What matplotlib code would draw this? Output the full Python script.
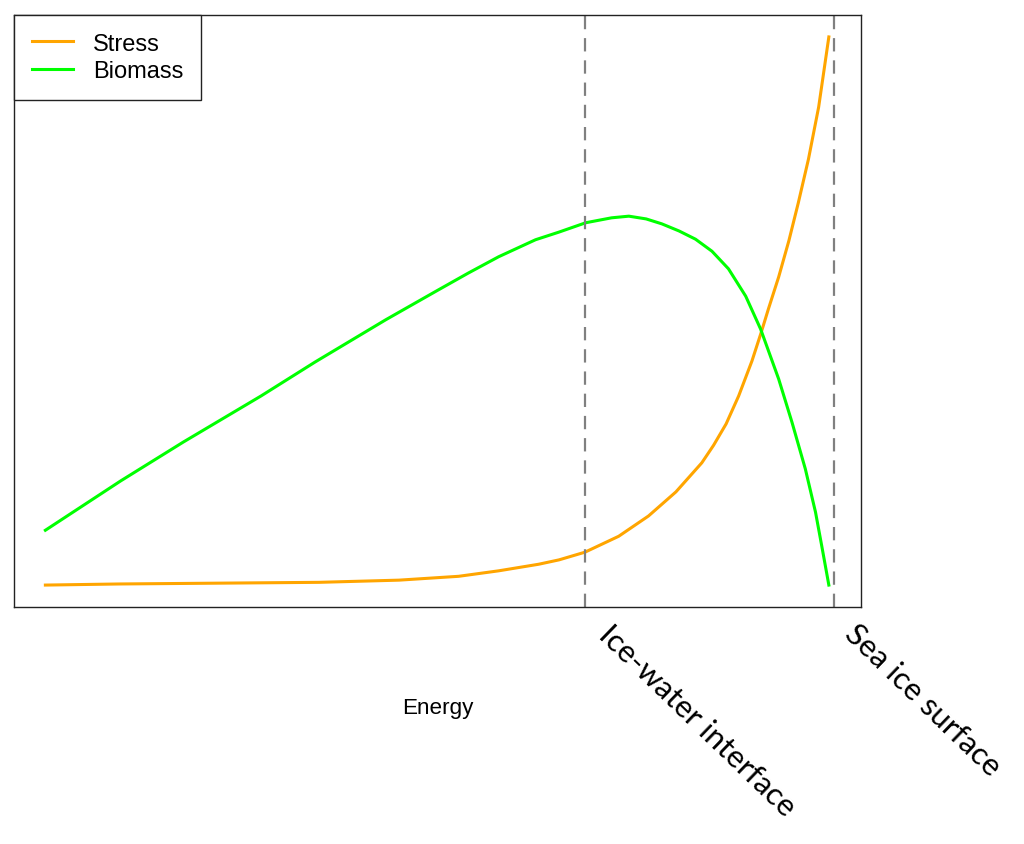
import matplotlib
matplotlib.use("Agg")
import matplotlib.pyplot as plt

# energy axis (0 = bottom of ice, 1 = top)
stress_x = [0.0, 0.094, 0.349, 0.451, 0.527, 0.578, 0.629, 0.655, 0.688, 0.731,
            0.769, 0.804, 0.837, 0.852, 0.868, 0.884, 0.901, 0.913, 0.922, 0.935,
            0.948, 0.960, 0.973, 0.986, 0.999]
stress_y = [0.0, 0.002, 0.005, 0.009, 0.016, 0.026, 0.038, 0.046, 0.060, 0.089,
            0.126, 0.170, 0.223, 0.255, 0.294, 0.345, 0.409, 0.462, 0.504, 0.562,
            0.628, 0.697, 0.777, 0.872, 1.0]

biomass_x = [0.0, 0.096, 0.176, 0.275, 0.344, 0.434, 0.498, 0.539, 0.578, 0.625,
             0.655, 0.689, 0.722, 0.744, 0.766, 0.786, 0.808, 0.829, 0.850, 0.871,
             0.893, 0.912, 0.935, 0.952, 0.969, 0.982, 0.990, 0.999]
biomass_y = [0.100, 0.190, 0.261, 0.345, 0.407, 0.484, 0.536, 0.569, 0.599, 0.630,
             0.644, 0.661, 0.670, 0.673, 0.668, 0.659, 0.646, 0.631, 0.609, 0.577,
             0.527, 0.467, 0.376, 0.297, 0.212, 0.133, 0.071, 0.0]

markers_x = [0.688, 1.006]

fig = plt.figure(figsize=(10.24, 8.45), dpi=100)
ax = fig.add_axes([14/1024, 1 - 608/845, (861-14)/1024, (608-16)/845])

ax.plot(stress_x, stress_y, color="#FFA500", lw=2.2, label="Stress")
ax.plot(biomass_x, biomass_y, color="#00FF00", lw=2.2, label="Biomass")
for xv in markers_x:
    ax.axvline(xv, color="#808080", lw=1.6, ls=(0, (6, 4)))

ax.set_xlim(-0.04, 1.04)
ax.set_ylim(-0.04, 1.04)
ax.set_xticks([])
ax.set_yticks([])
for sp in ax.spines.values():
    sp.set_linewidth(1.0)
    sp.set_color("#222222")

ax.set_xlabel("Energy", fontsize=16.2, family="Liberation Sans")
ax.xaxis.set_label_coords(0.5, -(709 - 608) / 592)
ax.xaxis.label.set_va("center")

leg = ax.legend(loc="upper left", borderaxespad=0, fancybox=False,
                edgecolor="#222222", framealpha=1,
                prop={"family": "Liberation Sans", "size": 17},
                handlelength=1.75, handletextpad=0.85, borderpad=0.75,
                labelspacing=0.24)
leg.get_frame().set_linewidth(1.0)

# rotated location labels under the axis (baseline start just right of each line)
ax.annotate("Ice-water interface", xy=(markers_x[0], 0),
            xycoords=("data", "axes fraction"),
            xytext=(8.6, -20.9), textcoords="offset points",
            rotation=-44, rotation_mode="anchor", ha="left", va="baseline",
            fontsize=22.5, family="Lato", annotation_clip=False)
ax.annotate("Sea ice surface", xy=(markers_x[1], 0),
            xycoords=("data", "axes fraction"),
            xytext=(6.5, -20), textcoords="offset points",
            rotation=-44, rotation_mode="anchor", ha="left", va="baseline",
            fontsize=22.5, family="Lato", annotation_clip=False)

fig.savefig("out.png", dpi=100)
